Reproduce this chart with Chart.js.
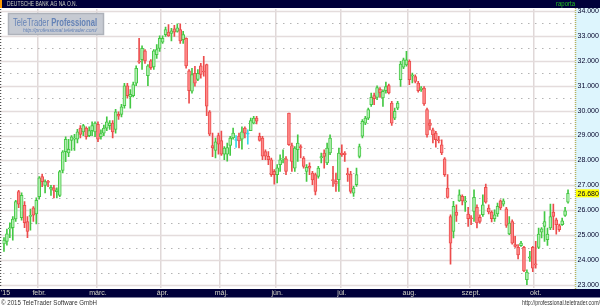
<!DOCTYPE html>
<html>
<head>
<meta charset="utf-8">
<script src="https://cdn.jsdelivr.net/npm/chart.js@4.4.0/dist/chart.umd.min.js"></script>
<style>
  html, body { margin: 0; padding: 0; background: #fff; }
</style>
</head>
<body>
<canvas id="stockChart" width="600" height="306"></canvas>
<script>
// Deutsche Bank daily candles, mid Jan - mid Oct 2015 (one row per month)
const opens = [
  24.65, 24.75, 25.25, 25.30, 25.65, 26.75, 25.70, 26.20, 25.55, 25.75, 26.10, 25.85,
  26.55, 27.35, 27.00, 27.16, 26.85, 26.90, 26.75, 26.60, 27.60, 28.35, 28.30, 28.80, 28.85, 28.85, 29.30, 29.15, 29.30, 29.00, 29.20, 29.15,
  29.45, 28.95, 29.10, 29.30, 29.40, 29.50, 29.25, 29.85, 29.85, 30.20, 31.00, 30.55, 30.60, 31.10, 32.00, 32.05, 32.40, 31.40, 32.00, 31.75, 32.25, 32.50,
  32.75, 33.05, 33.15, 33.10, 33.28, 33.18, 33.25, 32.85, 32.90, 31.60, 30.78, 31.50, 31.25, 31.80, 31.58, 31.85, 29.95, 28.60, 28.40, 29.00,
  28.80, 28.25, 28.25, 28.60, 28.90, 28.80, 28.98, 28.85, 29.30, 29.06, 29.20, 29.50, 29.70, 28.97, 28.90, 28.36, 28.17, 28.03, 27.56,
  27.43, 27.83, 28.05, 28.07, 29.90, 28.60, 27.69, 28.43, 28.56, 28.10, 27.56, 27.76, 27.49, 27.43, 27.36, 28.10, 28.30, 27.90, 28.30, 27.23, 27.16, 27.23,
  28.30, 28.30, 27.46, 27.45, 26.69, 27.03, 28.16, 28.97, 29.50, 29.70, 30.24, 30.60, 30.53, 30.87, 30.51, 30.80, 31.01, 30.30, 29.70, 30.10, 31.24, 31.74, 31.84,
  31.98, 31.38, 31.37, 31.11, 30.84, 30.91, 30.04, 29.50, 29.23, 29.10, 28.83, 28.63, 28.07, 26.89, 25.75, 25.15, 25.93, 26.38, 26.56, 26.33, 25.85,
  25.69, 25.95, 26.12, 25.72, 25.82, 26.92, 26.09, 25.93, 25.66, 25.85, 26.38, 26.25, 26.06, 25.05, 25.55, 24.62, 24.51, 24.58, 24.51, 23.21, 24.08, 24.51,
  23.85, 24.51, 25.12, 25.35, 24.82, 25.29, 25.93, 25.62, 25.39, 25.42, 25.79, 26.33
];
const highs = [
  24.90, 25.25, 25.50, 25.75, 26.40, 26.80, 26.70, 26.35, 25.75, 26.05, 26.15, 26.50,
  27.35, 27.45, 27.22, 27.20, 27.00, 27.00, 26.90, 27.60, 28.40, 28.95, 28.85, 29.00, 29.05, 29.25, 29.40, 29.45, 29.35, 29.35, 29.55, 29.55,
  29.55, 29.23, 29.42, 29.75, 29.60, 29.60, 30.05, 29.95, 30.25, 31.10, 31.10, 30.85, 31.15, 31.80, 32.90, 32.60, 32.45, 31.85, 32.05, 32.45, 32.65, 33.00,
  33.00, 33.35, 33.45, 33.30, 33.42, 33.48, 33.48, 33.18, 32.92, 31.65, 31.70, 31.78, 31.65, 31.90, 32.18, 31.87, 30.00, 29.10, 28.90, 29.10,
  29.18, 28.56, 28.70, 28.97, 29.30, 29.00, 29.10, 29.35, 29.35, 29.23, 29.70, 29.77, 29.77, 29.10, 28.97, 28.43, 28.36, 28.10, 27.63,
  27.83, 28.23, 28.43, 28.16, 29.90, 28.70, 28.56, 29.03, 28.63, 28.16, 27.83, 27.90, 27.56, 27.49, 27.76, 28.30, 28.43, 28.70, 29.03, 27.76, 27.49, 28.50,
  28.63, 28.36, 27.69, 27.56, 26.96, 27.69, 28.66, 29.64, 29.77, 30.10, 30.70, 30.70, 31.00, 30.93, 30.84, 31.15, 31.07, 30.37, 30.10, 30.37, 31.98, 32.11, 32.38,
  32.04, 31.51, 31.44, 31.18, 30.97, 30.97, 30.10, 29.64, 29.30, 29.17, 28.97, 28.83, 28.12, 27.43, 25.82, 26.36, 26.22, 26.82, 26.62, 26.56, 26.12,
  25.79, 26.82, 26.22, 25.82, 26.62, 27.05, 26.22, 25.98, 26.02, 26.29, 26.42, 26.46, 26.12, 25.75, 25.62, 24.95, 24.62, 24.75, 24.55, 23.61, 24.35, 24.55,
  24.75, 25.29, 25.31, 25.95, 25.29, 26.25, 26.25, 25.69, 25.45, 25.69, 26.12, 26.82
];
const lows = [
  24.35, 24.60, 24.90, 24.80, 25.55, 26.10, 25.60, 25.30, 24.90, 25.20, 25.55, 25.45,
  26.45, 26.95, 26.70, 26.95, 26.60, 26.50, 26.50, 26.55, 27.50, 27.95, 28.15, 28.40, 28.40, 28.70, 28.90, 29.00, 28.85, 28.95, 29.00, 28.95,
  28.75, 28.85, 29.00, 29.20, 29.25, 28.90, 29.10, 29.65, 29.75, 30.10, 30.50, 30.10, 30.55, 31.00, 31.90, 31.65, 31.90, 31.00, 31.65, 31.65, 32.10, 32.38,
  32.70, 32.98, 32.98, 32.80, 32.98, 33.15, 32.70, 32.70, 31.70, 30.30, 30.70, 30.98, 31.20, 31.30, 31.38, 29.80, 29.00, 28.15, 28.10, 28.25,
  28.20, 28.03, 27.97, 28.20, 28.85, 28.52, 28.50, 28.45, 28.90, 28.65, 29.20, 29.47, 29.47, 28.77, 28.03, 28.03, 27.83, 27.36, 27.05,
  27.10, 27.56, 27.90, 27.43, 28.60, 27.56, 27.56, 27.96, 28.10, 27.69, 27.16, 27.43, 27.03, 26.62, 27.29, 27.90, 27.69, 27.83, 28.23, 26.96, 26.76, 26.76,
  28.16, 27.96, 27.16, 26.69, 26.56, 26.96, 28.10, 28.90, 29.44, 29.64, 30.17, 30.24, 30.44, 30.53, 30.17, 30.70, 30.67, 29.41, 29.64, 30.04, 30.97, 31.68, 31.78,
  31.04, 31.11, 31.11, 30.74, 30.77, 30.21, 28.93, 29.23, 28.70, 28.53, 28.70, 28.23, 27.36, 26.49, 23.84, 24.89, 25.55, 26.36, 26.22, 25.95, 25.35,
  25.42, 25.55, 25.29, 25.49, 25.75, 26.29, 25.85, 25.53, 25.55, 25.75, 26.02, 26.16, 25.31, 25.02, 24.64, 24.51, 24.05, 24.55, 23.54, 23.01, 23.95, 23.54,
  23.68, 24.46, 24.89, 24.75, 24.59, 25.22, 25.22, 25.04, 25.15, 25.39, 25.75, 26.29
];
const closes = [
  24.80, 25.05, 25.30, 25.65, 26.35, 26.25, 26.60, 25.50, 25.15, 25.80, 25.80, 26.40,
  27.30, 27.15, 27.15, 27.12, 26.92, 26.80, 26.82, 27.55, 28.35, 28.85, 28.45, 28.95, 28.90, 29.15, 29.05, 29.40, 28.95, 29.20, 29.40, 29.50,
  28.85, 29.08, 29.30, 29.55, 29.50, 29.15, 29.95, 29.78, 30.15, 31.00, 30.60, 30.65, 31.05, 31.70, 31.95, 32.50, 32.00, 31.80, 31.72, 32.40, 32.45, 32.90,
  32.90, 33.25, 33.00, 33.20, 33.15, 33.32, 32.80, 33.05, 31.80, 30.80, 31.45, 31.10, 31.50, 31.45, 31.55, 30.18, 29.06, 28.50, 28.75, 28.65,
  28.25, 28.50, 28.52, 28.90, 29.10, 28.80, 28.78, 29.15, 29.10, 29.06, 29.60, 29.70, 29.58, 28.80, 28.17, 28.17, 28.03, 27.43, 27.43,
  27.70, 28.03, 28.10, 27.56, 28.63, 27.96, 28.50, 28.70, 28.50, 27.76, 27.72, 27.69, 27.22, 26.76, 27.69, 28.16, 28.16, 28.50, 28.90, 27.19, 27.05, 28.30,
  28.23, 28.23, 27.43, 26.76, 26.89, 27.43, 28.56, 29.57, 29.70, 30.04, 30.53, 30.48, 30.93, 30.71, 30.77, 30.97, 30.71, 29.50, 29.97, 30.30, 31.87, 32.04, 32.04,
  31.24, 31.44, 31.17, 30.80, 30.91, 30.27, 29.03, 29.41, 29.03, 28.83, 28.79, 28.30, 27.43, 26.52, 24.68, 26.16, 25.79, 26.62, 26.38, 26.38, 25.66,
  25.66, 26.52, 25.49, 25.55, 26.22, 26.33, 25.93, 25.66, 25.82, 26.16, 26.09, 26.38, 25.39, 25.49, 24.68, 24.55, 24.21, 24.68, 23.57, 23.52, 24.13, 23.68,
  23.81, 25.04, 25.26, 25.55, 25.04, 25.75, 25.75, 25.42, 25.22, 25.58, 25.98, 26.68
];

// month labels and the candle index where each month begins
const monthNames = ['febr.', 'márc.', 'ápr.', 'máj.', 'jún.', 'júl.', 'aug.', 'szept.', 'okt.'];
const monthStarts = [12, 32, 54, 74, 93, 115, 138, 159, 181];
const yTicks = [23, 24, 25, 26, 27, 28, 29, 30, 31, 32, 33, 34];
const lastPrice = 26.68;

const labels = opens.map((o, i) => {
  const m = monthStarts.indexOf(i);
  return m >= 0 ? monthNames[m] : '';
});

const UP_FILL = '#b2eeb2', UP_LINE = '#44c844';
const DN_FILL = '#ff8a8a', DN_LINE = '#ec4c4c';
const DOJI = '#38d8ea';

function candleFill(i) {
  if (opens[i] === closes[i]) return DOJI;
  return closes[i] > opens[i] ? UP_FILL : DN_FILL;
}
function candleLine(i) {
  if (opens[i] === closes[i]) return DOJI;
  return closes[i] > opens[i] ? UP_LINE : DN_LINE;
}

const FONT = '"Liberation Sans", Arial, sans-serif';
const PANEL_X = 575;

// draw text squeezed horizontally to a given width (the original uses a narrow bitmap font)
function squeezeText(ctx, text, x, y, w, align) {
  const tw = ctx.measureText(text).width;
  const k = Math.min(1, w / tw);
  ctx.save();
  ctx.translate(align === 'right' ? x - tw * k : x, y);
  ctx.scale(k, 1);
  ctx.textAlign = 'left';
  ctx.fillText(text, 0, 0);
  ctx.restore();
}

const framePlugin = {
  id: 'frame',
  beforeDraw(chart) {
    const { ctx, chartArea: a, width, height } = chart;
    ctx.save();
    ctx.fillStyle = '#ffffff';
    ctx.fillRect(0, 0, width, height);
    // price axis panel
    ctx.fillStyle = '#ddf5fd';
    ctx.fillRect(PANEL_X, a.top - 1, width - PANEL_X, a.bottom - a.top + 2);
    // title bar + date bar
    ctx.fillStyle = '#00003a';
    ctx.fillRect(0, 0, width, 8);
    ctx.fillRect(0, a.bottom + 1, width, 8.5);
    ctx.fillStyle = '#ff9a00';
    ctx.fillRect(0, 0, 2, 8);
    ctx.restore();
  },
  beforeDatasetsDraw(chart) {
    const { ctx, chartArea: a } = chart;
    const y = chart.scales.y;
    ctx.save();
    // horizontal grid: solid on whole numbers, dotted on halves
    yTicks.forEach(v => {
      const py = Math.round(y.getPixelForValue(v)) + 0.5;
      ctx.strokeStyle = '#e4dcdc';
      ctx.lineWidth = 1.5;
      ctx.setLineDash([]);
      ctx.beginPath(); ctx.moveTo(0, py); ctx.lineTo(PANEL_X, py); ctx.stroke();
      if (v < 34) {
        const ph = Math.round(y.getPixelForValue(v + 0.5)) + 0.5;
        ctx.strokeStyle = '#b4b4b4';
        ctx.lineWidth = 1;
        ctx.setLineDash([1.5, 5.5]);
        ctx.beginPath(); ctx.moveTo(3, ph); ctx.lineTo(PANEL_X, ph); ctx.stroke();
      }
    });
    // left edge ticks
    ctx.strokeStyle = '#505050';
    ctx.setLineDash([1, 2]);
    ctx.beginPath(); ctx.moveTo(0.5, a.top); ctx.lineTo(0.5, a.bottom); ctx.stroke();
    // panel edge
    ctx.strokeStyle = '#b8b060';
    ctx.setLineDash([1, 1]);
    ctx.beginPath(); ctx.moveTo(PANEL_X + 0.5, a.top - 1); ctx.lineTo(PANEL_X + 0.5, a.bottom + 1); ctx.stroke();
    ctx.setLineDash([]);
    // watermark
    ctx.fillStyle = '#c6cad2';
    ctx.strokeStyle = '#aeb2ba';
    ctx.fillRect(8, 13, 96, 22);
    ctx.strokeRect(8.5, 13.5, 95, 21);
    ctx.fillStyle = '#6482b6';
    ctx.textBaseline = 'alphabetic';
    ctx.font = '10px ' + FONT;
    const w1 = ctx.measureText('TeleTrader ').width;
    ctx.font = 'bold 10px ' + FONT;
    const w2 = ctx.measureText('Professional').width;
    const k = 84 / (w1 + w2);
    ctx.save();
    ctx.translate(13, 25.5);
    ctx.scale(k, 1);
    ctx.font = '10px ' + FONT;
    ctx.fillText('TeleTrader', 0, 0);
    ctx.font = 'bold 10px ' + FONT;
    ctx.fillText('Professional', w1, 0);
    ctx.restore();
    ctx.font = 'italic 6px ' + FONT;
    squeezeText(ctx, 'http://professional.teletrader.com/', 23, 31.5, 74);
    ctx.restore();
  },
  afterDraw(chart) {
    const { ctx, chartArea: a, width } = chart;
    const y = chart.scales.y;
    ctx.save();
    ctx.textBaseline = 'middle';
    ctx.font = '7px ' + FONT;
    ctx.fillStyle = '#c8ccc0';
    squeezeText(ctx, 'DEUTSCHE BANK AG NA O.N.', 7, 4.5, 70);
    ctx.fillStyle = '#22c022';
    squeezeText(ctx, 'raporta', PANEL_X, 4.5, 19, 'right');
    // year mark at the start of the date bar
    ctx.fillStyle = '#d8d8c8';
    ctx.fillText("'15", 1, a.bottom + 5.5);
    // last price flag
    const py = y.getPixelForValue(lastPrice);
    ctx.fillStyle = '#ffff00';
    ctx.fillRect(PANEL_X + 1, py - 4, 23, 8);
    ctx.fillStyle = '#000028';
    ctx.fillText(lastPrice.toFixed(3), 577.5, py + 0.5);
    // footer
    ctx.fillStyle = '#333333';
    ctx.textBaseline = 'alphabetic';
    squeezeText(ctx, '\u00a9 2015 TeleTrader Software GmbH', 1, 305, 96);
    squeezeText(ctx, 'http://professional.teletrader.com/', width, 305, 78, 'right');
    ctx.restore();
  }
};

const ctx = document.getElementById('stockChart').getContext('2d');

const chart = new Chart(ctx, {
  type: 'bar',
  data: {
    labels,
    datasets: [
      {
        label: 'body',
        data: opens.map((o, i) => [o, closes[i]]),
        backgroundColor: c => candleFill(c.dataIndex),
        borderColor: c => candleLine(c.dataIndex),
        borderWidth: 1,
        borderSkipped: false,
        barThickness: 3,
        minBarLength: 1,
        grouped: false
      },
      {
        label: 'wick',
        data: lows.map((l, i) => [l, highs[i]]),
        backgroundColor: c => candleLine(c.dataIndex),
        borderWidth: 0,
        barThickness: 1,
        grouped: false
      }
    ]
  },
  options: {
    responsive: false,
    animation: false,
    layout: { padding: { top: 9, bottom: 8, left: 2.5, right: 0 } },
    plugins: {
      legend: { display: false },
      tooltip: { enabled: false }
    },
    scales: {
      x: {
        offset: true,
        grid: {
          offset: true,
          drawTicks: false,
          lineWidth: 1.5,
          color: c => monthStarts.includes(c.index) ? '#e0d8d8' : 'rgba(0,0,0,0)'
        },
        border: { display: false },
        ticks: {
          autoSkip: false,
          maxRotation: 0,
          minRotation: 0,
          padding: 2,
          color: '#d8d8c8',
          font: { size: 7, family: FONT, lineHeight: 1 }
        },
        afterFit: s => { s.height = 10; s.paddingLeft = 0; s.paddingRight = 0; }
      },
      y: {
        position: 'right',
        min: 22.88,
        max: 34.08,
        grid: { display: false, drawTicks: false },
        border: { display: false },
        afterBuildTicks: s => { s.ticks = yTicks.map(v => ({ value: v })); },
        ticks: {
          padding: 8,
          color: '#000028',
          font: { size: 7, family: FONT },
          callback: v => Number(v).toFixed(3)
        },
        afterFit: s => { s.width = 30.5; s.paddingTop = 0; s.paddingBottom = 0; }
      }
    }
  },
  plugins: [framePlugin]
});
</script>
</body>
</html>
